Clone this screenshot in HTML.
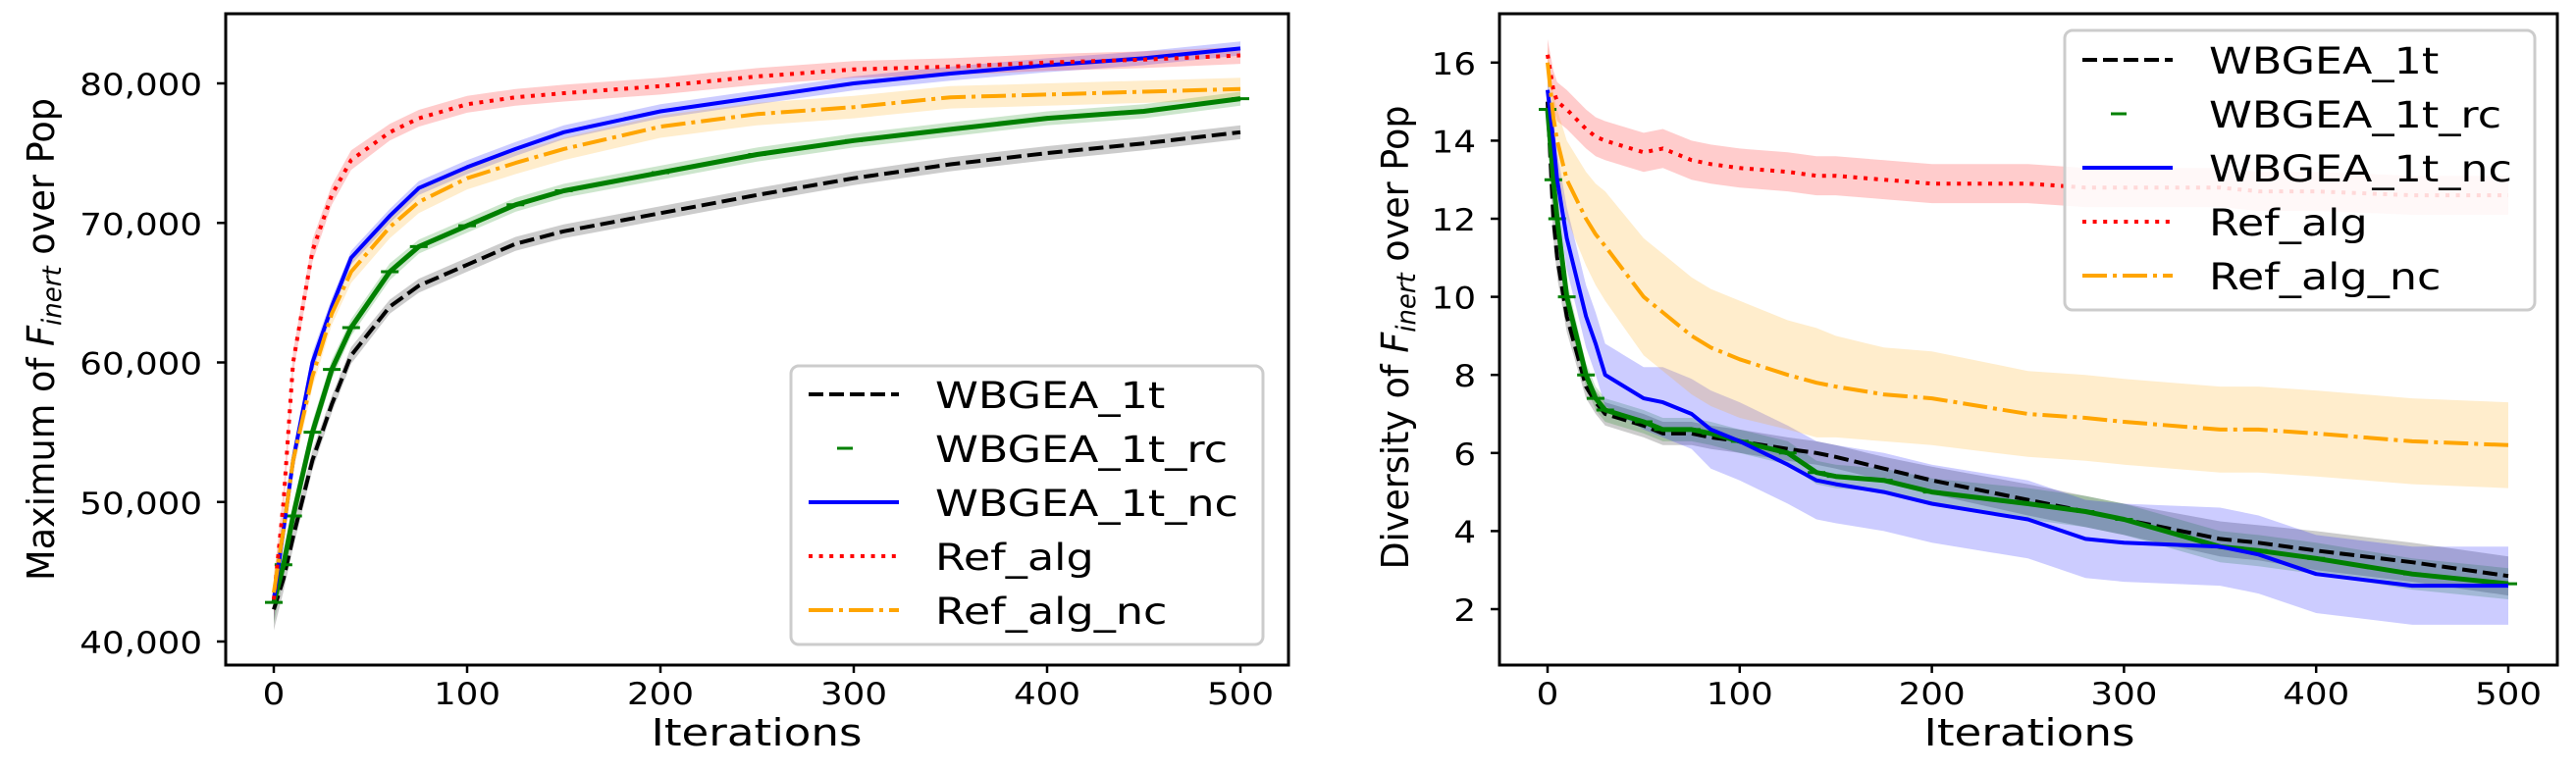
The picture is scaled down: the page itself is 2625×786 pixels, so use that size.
<!DOCTYPE html>
<html><head><meta charset="utf-8"><style>
html,body{margin:0;padding:0;background:#fff;}
svg{display:block;font-family:"DejaVu Sans","Liberation Sans",sans-serif;}
</style></head><body>
<svg id="fig" width="2625" height="786" viewBox="0 0 2625 786" xmlns="http://www.w3.org/2000/svg">
<defs>
<clipPath id="clipL"><rect x="230" y="14" width="1083" height="664"/></clipPath>
<clipPath id="clipR"><rect x="1528" y="14" width="1078" height="664"/></clipPath>
</defs>
<g id="panelL"></g>
<g id="panelR"></g>
</svg>
<script>
// ---------- Left chart data (Maximum of F_inert over Pop) ----------
const leftIters = [0,5,10,20,30,40,60,75,100,125,150,200,250,300,350,400,450,500];
const leftTicksY = [40000,50000,60000,70000,80000];
const leftTickLabelsY = ["40,000","50,000","60,000","70,000","80,000"];
const leftWBGEA1t   = [42300,44500,47500,53000,57000,60500,64000,65500,67000,68500,69400,70700,72000,73200,74200,75000,75700,76500];
const leftWBGEA1tRc = [42800,45500,49000,55000,59500,62500,66500,68300,69800,71300,72300,73600,74900,75900,76700,77500,78000,78900];
const leftWBGEA1tNc = [43000,48000,53000,60000,64000,67500,70500,72500,74000,75300,76500,78000,79000,80000,80700,81300,81800,82500];
const leftRefAlg    = [43000,50000,60000,68000,72000,74500,76500,77500,78500,79000,79300,79800,80500,81000,81200,81500,81700,82000];
const leftRefAlgNc  = [43500,48000,53000,59000,63500,66500,69700,71500,73200,74300,75300,76900,77800,78300,79000,79200,79400,79600];
const leftBand1t    = [1500,900,800,700,600,600,500,500,500,500,500,500,500,500,500,500,500,500];
const leftBandRc    = [1500,1000,900,800,700,600,600,500,500,500,500,500,500,500,500,500,500,500];
const leftBandNc    = [1500,900,800,700,600,500,500,500,500,500,500,500,500,500,500,500,500,500];
const leftBandRef   = [1500,900,800,800,700,700,600,600,600,600,600,600,600,600,600,600,600,600];
const leftBandRefNc = [1500,900,900,800,800,800,800,800,800,800,800,800,800,800,800,800,800,800];

// ---------- Right chart data (Diversity of F_inert over Pop) ----------
const rightIters = [0,3,5,10,20,25,30,50,60,75,85,100,125,140,150,175,200,250,280,300,350,370,400,450,500];
const rightTicksY = [2,4,6,8,10,12,14,16];
const rightTickLabelsY = ["2","4","6","8","10","12","14","16"];
const rightWBGEA1t   = [15.0,12.0,11.0,9.5,7.7,7.3,7.0,6.7,6.5,6.5,6.4,6.3,6.1,6.0,5.9,5.6,5.3,4.8,4.5,4.3,3.8,3.7,3.5,3.2,2.85];
const rightWBGEA1tRc = [14.8,13.0,12.0,10.0,8.0,7.4,7.1,6.8,6.6,6.6,6.5,6.3,6.0,5.5,5.4,5.3,5.0,4.7,4.5,4.3,3.6,3.5,3.3,2.9,2.65];
const rightWBGEA1tNc = [15.3,14.0,13.0,11.5,9.5,8.8,8.0,7.4,7.3,7.0,6.6,6.3,5.7,5.3,5.2,5.0,4.7,4.3,3.8,3.7,3.6,3.4,2.9,2.6,2.6];
const rightRefAlg    = [16.2,15.3,15.0,14.8,14.3,14.1,14.0,13.7,13.8,13.5,13.4,13.3,13.2,13.1,13.1,13.0,12.9,12.9,12.8,12.8,12.8,12.7,12.7,12.6,12.6];
const rightRefAlgNc  = [16.0,14.6,14.0,13.0,12.0,11.6,11.3,10.0,9.6,9.0,8.7,8.4,8.0,7.8,7.7,7.5,7.4,7.0,6.9,6.8,6.6,6.6,6.5,6.3,6.2];
const rightBand1t    = [0.5,0.5,0.5,0.4,0.3,0.3,0.3,0.3,0.3,0.3,0.3,0.3,0.3,0.3,0.3,0.3,0.35,0.4,0.4,0.4,0.45,0.45,0.5,0.5,0.5];
const rightBandRc    = [0.5,0.5,0.5,0.4,0.3,0.3,0.3,0.3,0.3,0.3,0.3,0.3,0.3,0.3,0.3,0.3,0.35,0.4,0.4,0.4,0.4,0.4,0.4,0.4,0.4];
const rightBandNc    = [0.5,0.6,0.7,0.8,0.8,0.8,0.8,0.8,0.9,0.9,1.0,1.0,1.0,1.0,1.0,1.0,1.0,1.0,1.0,1.0,1.0,1.0,1.0,1.0,1.0];
const rightBandRef   = [0.4,0.5,0.5,0.5,0.5,0.5,0.5,0.5,0.5,0.5,0.5,0.5,0.5,0.5,0.5,0.5,0.5,0.5,0.5,0.5,0.5,0.5,0.5,0.5,0.5];
const rightBandRefNc = [0.4,0.6,0.8,1.0,1.2,1.3,1.4,1.5,1.5,1.5,1.5,1.5,1.4,1.4,1.3,1.2,1.2,1.1,1.1,1.1,1.1,1.1,1.1,1.1,1.1];

const xTicks = [0,100,200,300,400,500];
const xTickLabels = ["0","100","200","300","400","500"];

const NS = "http://www.w3.org/2000/svg";
function mk(parent, tag, attrs){
  const e = document.createElementNS(NS, tag);
  for (const k in attrs) e.setAttribute(k, attrs[k]);
  parent.appendChild(e);
  return e;
}

const styles = {
  t:  {color:"#000000", band:"#000000", dash:"15,6", label:"WBGEA_1t"},
  rc: {color:"#008000", band:"#008000", dash:"none", label:"WBGEA_1t_rc", marker:true},
  nc: {color:"#0000ff", band:"#0000ff", dash:"none", label:"WBGEA_1t_nc"},
  ref:{color:"#ff0000", band:"#ff0000", dash:"4,6.6", label:"Ref_alg"},
  rnc:{color:"#ffa500", band:"#ffa500", dash:"25,6,4,6", label:"Ref_alg_nc"}
};

function drawPanel(p){
  const g = document.getElementById(p.id);
  const X = i => p.x0 + i * p.xs;
  const Y = v => p.y0 - (v - p.v0) * p.ys;
  // bands
  const bands = mk(g,"g",{"clip-path":"url(#"+p.clip+")"});
  
  
  p.series.forEach(s=>{
    const st = styles[s.key];
    let d = "";
    p.iters.forEach((it,k)=>{ d += (k?"L":"M")+X(it).toFixed(1)+","+Y(s.vals[k]+s.band[k]).toFixed(1); });
    for (let k=p.iters.length-1;k>=0;k--) d += "L"+X(p.iters[k]).toFixed(1)+","+Y(s.vals[k]-s.band[k]).toFixed(1);
    d += "Z";
    const b = mk(bands,"path",{d:d, fill:st.band, "fill-opacity":"0.2", stroke:"none"});
    
    
  });
  // lines
  const lines = mk(g,"g",{"clip-path":"url(#"+p.clip+")"});
  
  
  p.series.forEach(s=>{
    const st = styles[s.key];
    const pts = p.iters.map((it,k)=>X(it).toFixed(1)+","+Y(s.vals[k]).toFixed(1)).join(" ");
    const l = mk(lines,"polyline",{points:pts, fill:"none", stroke:st.color, "stroke-width": st.marker? "5":"4", "stroke-dasharray":st.dash, "stroke-linejoin":"round"});
    
    
    if (st.marker){
      p.iters.forEach((it,k)=>{
        const m = mk(lines,"line",{x1:X(it)-9, x2:X(it)+9, y1:Y(s.vals[k]), y2:Y(s.vals[k]), stroke:st.color, "stroke-width":"3"});
        
        
      });
    }
  });
  // spines
  const frame = mk(g,"rect",{x:p.ax, y:14, width:p.aw, height:664, fill:"none", stroke:"#000", "stroke-width":"3"});
  
  
  // x ticks
  xTicks.forEach((t,k)=>{
    const tl = mk(g,"line",{x1:X(t), x2:X(t), y1:678, y2:686, stroke:"#000","stroke-width":"2.5"});
    
    
    const tg = mk(g,"g",{transform:"translate("+X(t)+",718) scale(1.15,1)"});
    const tx = mk(tg,"text",{x:0,y:0,"text-anchor":"middle","font-size":"31"});
    tx.textContent = xTickLabels[k];
    
    
  });
  // y ticks
  p.ticksY.forEach((t,k)=>{
    const tl = mk(g,"line",{x1:p.ax-9, x2:p.ax, y1:Y(t), y2:Y(t), stroke:"#000","stroke-width":"2.5"});
    
    
    const tg = mk(g,"g",{transform:"translate("+(p.ax-24)+","+(Y(t)+12)+") scale(1.15,1)"});
    const tx = mk(tg,"text",{x:0,y:0,"text-anchor":"end","font-size":"31"});
    tx.textContent = p.tickLabelsY[k];
    
    
  });
  // x label
  const xl = mk(g,"text",{x:p.xlabelX, y:760, "text-anchor":"middle","font-size":"38", textLength:"215", lengthAdjust:"spacingAndGlyphs"});
  xl.textContent = "Iterations";
  
  
  // y label
  const yl = mk(g,"text",{x:0,y:0,"text-anchor":"middle","font-size":"38", transform:"translate("+p.ylabelX+","+p.ylabelY+") rotate(-90)", textLength:p.ylabelLen, lengthAdjust:"spacingAndGlyphs"});
  
  
  const t1 = mk(yl,"tspan",{}); t1.textContent = p.ylabelPre + " ";
  const t2 = mk(yl,"tspan",{"font-style":"italic"}); t2.textContent = "F";
  const t3 = mk(yl,"tspan",{"font-style":"italic","font-size":"27", dy:"7"}); t3.textContent = "inert";
  const t4 = mk(yl,"tspan",{dy:"-7"}); t4.textContent = " over Pop";
  // legend
  const lg = mk(g,"g",{});
  
  
  const box = mk(lg,"rect",{x:p.lx, y:p.ly, width:p.lw, height:p.lh, rx:"8", fill:"#fff", "fill-opacity":"0.85", stroke:"#cccccc", "stroke-width":"3"});
  
  
  ["t","rc","nc","ref","rnc"].forEach((key,k)=>{
    const st = styles[key];
    const yy = p.ly + p.lfirst + k * p.lstep;
    const e = mk(lg,"g",{});
    
    
    if (st.marker){
      mk(e,"line",{x1:p.lx+47, x2:p.lx+63, y1:yy, y2:yy, stroke:st.color, "stroke-width":"3"});
    } else {
      mk(e,"line",{x1:p.lx+18, x2:p.lx+110, y1:yy, y2:yy, stroke:st.color, "stroke-width":"4", "stroke-dasharray":st.dash});
    }
    const tg = mk(e,"g",{transform:"translate("+(p.lx+147)+","+(yy+14)+") scale(1.2,1)"});
    const tx = mk(tg,"text",{x:0,y:0,"font-size":"37"});
    tx.textContent = st.label;
  });
}

drawPanel({
  id:"panelL", clip:"clipL", ax:230, aw:1083,
  x0:279, xs:1.97, y0:654, v0:40000, ys:142.25/10000,
  iters:leftIters, ticksY:leftTicksY, tickLabelsY:leftTickLabelsY,
  series:[
    {key:"t", vals:leftWBGEA1t, band:leftBand1t},
    {key:"rc", vals:leftWBGEA1tRc, band:leftBandRc},
    {key:"nc", vals:leftWBGEA1tNc, band:leftBandNc},
    {key:"ref", vals:leftRefAlg, band:leftBandRef},
    {key:"rnc", vals:leftRefAlgNc, band:leftBandRefNc}
  ],
  xlabelX:771, ylabelX:55, ylabelY:346, ylabelLen:"492", ylabelPre:"Maximum of",
  lx:806, ly:373, lw:481, lh:284, lfirst:29, lstep:55
});
drawPanel({
  id:"panelR", clip:"clipR", ax:1528, aw:1078,
  x0:1577, xs:1.958, y0:621, v0:2, ys:39.8,
  iters:rightIters, ticksY:rightTicksY, tickLabelsY:rightTickLabelsY,
  series:[
    {key:"t", vals:rightWBGEA1t, band:rightBand1t},
    {key:"rc", vals:rightWBGEA1tRc, band:rightBandRc},
    {key:"nc", vals:rightWBGEA1tNc, band:rightBandNc},
    {key:"ref", vals:rightRefAlg, band:rightBandRef},
    {key:"rnc", vals:rightRefAlgNc, band:rightBandRefNc}
  ],
  xlabelX:2068, ylabelX:1435, ylabelY:344, ylabelLen:"473", ylabelPre:"Diversity of",
  lx:2104, ly:31, lw:479, lh:285, lfirst:30, lstep:55
});
</script>
</body></html>
